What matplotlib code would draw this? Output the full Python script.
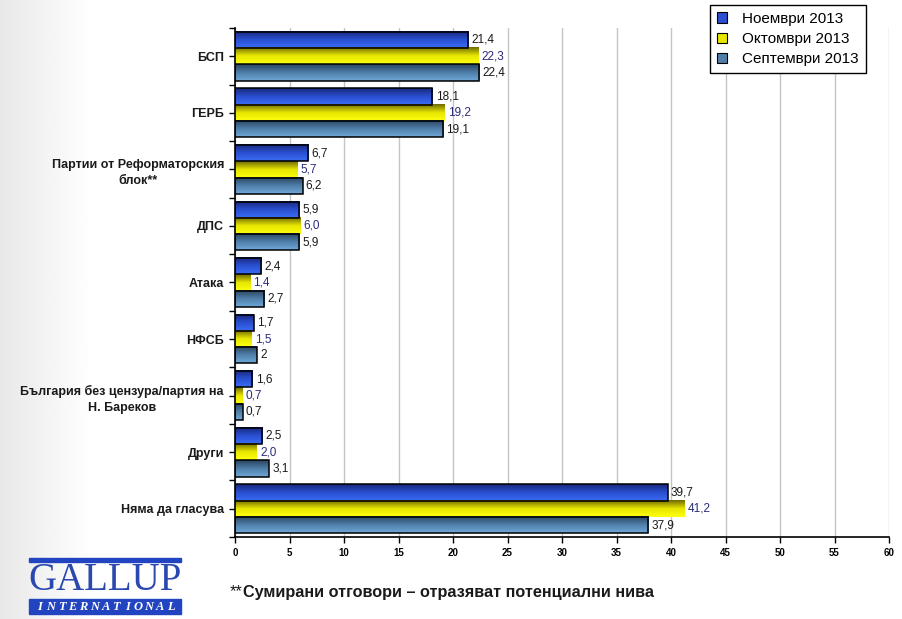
import numpy as np
import matplotlib
matplotlib.use("Agg")
import matplotlib.pyplot as plt
from matplotlib.colors import LinearSegmentedColormap
from matplotlib.patches import Rectangle, Patch

plt.rcParams['font.family'] = ['Liberation Sans', 'DejaVu Sans']

categories = ['БСП', 'ГЕРБ', 'Партии от Реформаторския\nблок**', 'ДПС', 'Атака',
              'НФСБ', 'България без цензура/партия на\nН. Бареков', 'Други',
              'Няма да гласува']
series_names = ['Ноември 2013', 'Октомври 2013', 'Септември 2013']
nov = [21.4, 18.1, 6.7, 5.9, 2.4, 1.7, 1.6, 2.5, 39.7]
octo = [22.3, 19.2, 5.7, 6.0, 1.4, 1.5, 0.7, 2.0, 41.2]
sep = [22.4, 19.1, 6.2, 5.9, 2.7, 2.0, 0.7, 3.1, 37.9]
nov_labels = ['21,4', '18,1', '6,7', '5,9', '2,4', '1,7', '1,6', '2,5', '39,7']
oct_labels = ['22,3', '19,2', '5,7', '6,0', '1,4', '1,5', '0,7', '2,0', '41,2']
sep_labels = ['22,4', '19,1', '6,2', '5,9', '2,7', '2', '0,7', '3,1', '37,9']
xticks = list(range(0, 61, 5))

W, H = 902, 619
fig = plt.figure(figsize=(W / 100, H / 100), dpi=100)

# faint slide background shading on the left
bg = fig.add_axes([0, 0, 1, 1], zorder=-10)
xx = np.linspace(0, 1, 400)
shade = np.clip(0.91 + xx / 0.10 * 0.09, 0, 1)
bg.imshow(np.tile(shade, (10, 1)), cmap='gray', vmin=0, vmax=1, aspect='auto',
          extent=(0, 1, 0, 1))
bg.set_axis_off()

ax = fig.add_axes([235 / W, 1 - 537 / H, (889 - 235) / W, (537 - 28) / H])

cmaps = [
    LinearSegmentedColormap.from_list('b', ['#18287a', '#2a4fd0', '#3a6cf5']),
    LinearSegmentedColormap.from_list('y', ['#6e6a00', '#e6e600', '#ffff10']),
    LinearSegmentedColormap.from_list('s', ['#2a4460', '#4f7fa8', '#6fa8d8']),
]
edges = ['black', 'none', 'black']
label_colors = ['#1a1a1a', '#2a2a7a', '#1a1a1a']

y = np.arange(len(categories))
h = 0.288
grad = np.linspace(0, 1, 64).reshape(-1, 1)
for k, (vals, labs) in enumerate(zip([nov, octo, sep], [nov_labels, oct_labels, sep_labels])):
    bars = ax.barh(y + (k - 1) * h, vals, height=h, facecolor='none',
                   edgecolor=edges[k], linewidth=1.1, zorder=4)
    for p, lab in zip(bars.patches, labs):
        x0, y0 = p.get_x(), p.get_y()
        w, hh = p.get_width(), p.get_height()
        ax.imshow(grad, cmap=cmaps[k], aspect='auto', origin='upper',
                  extent=(x0, x0 + w, y0 + hh, y0), zorder=3)
        ax.text(x0 + w + 0.3, y0 + hh / 2, lab, va='center', ha='left',
                fontsize=8.5, color=label_colors[k], zorder=5)

ax.set_xlim(0, 60)
ax.set_ylim(len(categories) - 0.5, -0.5)
ax.set_xticks(xticks)
ax.set_xticklabels([str(t) for t in xticks], fontsize=7, fontweight='bold',
                   family=['Liberation Sans Narrow', 'Liberation Sans'])
ax.set_yticks(y)
ax.set_yticks(np.arange(-0.5, len(categories), 1), minor=True)
ax.set_yticklabels(categories, fontsize=9, fontweight='bold', color='#1a1a1a',
                   ha='right', multialignment='center', linespacing=1.45)
ax.tick_params(axis='y', which='both', length=4, width=1, color='black', pad=4)
ax.tick_params(axis='x', length=4, width=1, color='black', pad=4)
ax.grid(axis='x', color='#c4c4c4', linewidth=1, zorder=0)
ax.set_axisbelow(True)
for s in ['top', 'right']:
    ax.spines[s].set_visible(False)
for s in ['left', 'bottom']:
    ax.spines[s].set_linewidth(1.2)
    ax.spines[s].set_zorder(6)

handles = [Patch(facecolor=c, edgecolor='black', linewidth=0.8)
           for c in ['#2a4fd0', '#e6e600', '#4f7fa8']]
leg = fig.legend(handles, series_names, loc='upper left',
                 bbox_to_anchor=(710 / W, 1 - 5 / H), fontsize=11,
                 handlelength=0.65, handleheight=0.65, handletextpad=1.0,
                 labelspacing=0.4, borderpad=0.45, borderaxespad=0,
                 fancybox=False, framealpha=1, edgecolor='black')
leg.get_frame().set_linewidth(1)

foot = fig.text(230 / W, 1 - 592 / H, '**', fontsize=11.7, color='#1a1a1a',
                va='center', ha='left')
fig.canvas.draw()
fx = foot.get_window_extent().x1 / W
fig.text(fx, 1 - 592 / H, 'Сумирани отговори – отразяват потенциални нива',
         fontsize=11.7, fontweight='bold', color='#1a1a1a', va='center', ha='left')

# Gallup International logo
blue = '#2244c0'
fig.patches.append(Rectangle((29 / W, 1 - 562 / H), 152 / W, 4 / H,
                             transform=fig.transFigure, color=blue))
fig.text(105 / W, 1 - 580 / H, 'GALLUP', family=['Liberation Serif'],
         fontsize=28, color='#2a48b0', ha='center', va='center')
fig.patches.append(Rectangle((29 / W, 1 - 614 / H), 152 / W, 15 / H,
                             transform=fig.transFigure, color=blue))
for i, ch in enumerate('INTERNATIONAL'):
    fig.text((40 + i * 10.9) / W, 1 - 607 / H, ch, family=['Liberation Serif'],
             fontsize=9, fontstyle='italic', fontweight='bold', color='white',
             ha='center', va='center')

fig.savefig('out.png', dpi=100)
